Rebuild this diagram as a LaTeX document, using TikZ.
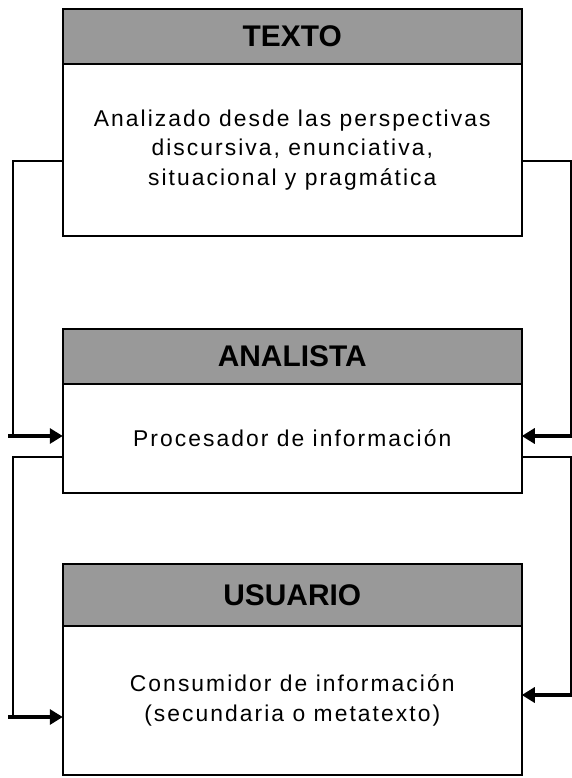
\documentclass[tikz,border=0pt]{standalone}
\usepackage{fontspec}
\setmainfont{Liberation Sans}
\usetikzlibrary{positioning,arrows.meta}
\definecolor{headgray}{RGB}{153,153,153}

\begin{document}
\begin{tikzpicture}[head_node/.style={rectangle,draw,fill=headgray,line width=1.1pt,outer sep=0pt,inner sep=0pt,minimum width=9.18cm,font=\fontsize{17}{20}\selectfont\bfseries},
	body_node/.style={rectangle,draw,fill=white,line width=1.1pt,outer sep=0pt,inner sep=0pt,minimum width=9.18cm,align=center,font=\fontsize{13}{17}\selectfont\addfontfeatures{LetterSpace=9}},
	link/.style={line width=0.9pt},
	link_arrow/.style={line width=2.3pt,-{Triangle[length=0.26cm,width=0.3cm]}}]
				\useasboundingbox (0,0) rectangle (11.44,-15.56);
				\node[head_node, minimum height=1.094cm](texto_head) at (5.845,-0.733){TEXTO};
				\node[body_node, minimum height=3.44cm, below=0pt of texto_head](texto_body){Analizado desde las perspectivas\\discursiva, enunciativa,\\situacional y pragmática};
				\node[head_node, minimum height=1.1cm](analista_head) at (5.845,-7.13){ANALISTA};
				\node[body_node, minimum height=2.18cm, below=0pt of analista_head](analista_body){Procesador de información};
				\node[head_node, minimum height=1.24cm](usuario_head) at (5.845,-11.9){USUARIO};
				\node[body_node, minimum height=2.98cm, below=0pt of usuario_head](usuario_body){Consumidor de información\\(secundaria o metatexto)};
				% corners of the feedback lines
				\coordinate (l1) at (0.256,-3.22);
				\coordinate (l2) at (0.256,-8.72);
				\coordinate (a1) at (0.16,-8.72);
				\coordinate (r1) at (11.42,-3.22);
				\coordinate (r2) at (11.42,-8.72);
				\coordinate (b1) at (11.44,-8.72);
				\coordinate (l3) at (0.256,-9.14);
				\coordinate (l4) at (0.256,-14.34);
				\coordinate (a2) at (0.16,-14.34);
				\coordinate (r3) at (11.42,-9.14);
				\coordinate (r4) at (11.42,-13.9);
				\coordinate (b2) at (11.44,-13.9);
				\draw[link] (l1 -| texto_body.west) -- (l1) -- (l2);
				\draw[link] (r1 -| texto_body.east) -- (r1) -- (r2);
				\draw[link] (l3 -| analista_body.west) -- (l3) -- (l4);
				\draw[link] (r3 -| analista_body.east) -- (r3) -- (r4);
				\draw[link_arrow] (a1) -- (a1 -| analista_body.west);
				\draw[link_arrow] (b1) -- (b1 -| analista_body.east);
				\draw[link_arrow] (a2) -- (a2 -| usuario_body.west);
				\draw[link_arrow] (b2) -- (b2 -| usuario_body.east);
			\end{tikzpicture}
\end{document}
